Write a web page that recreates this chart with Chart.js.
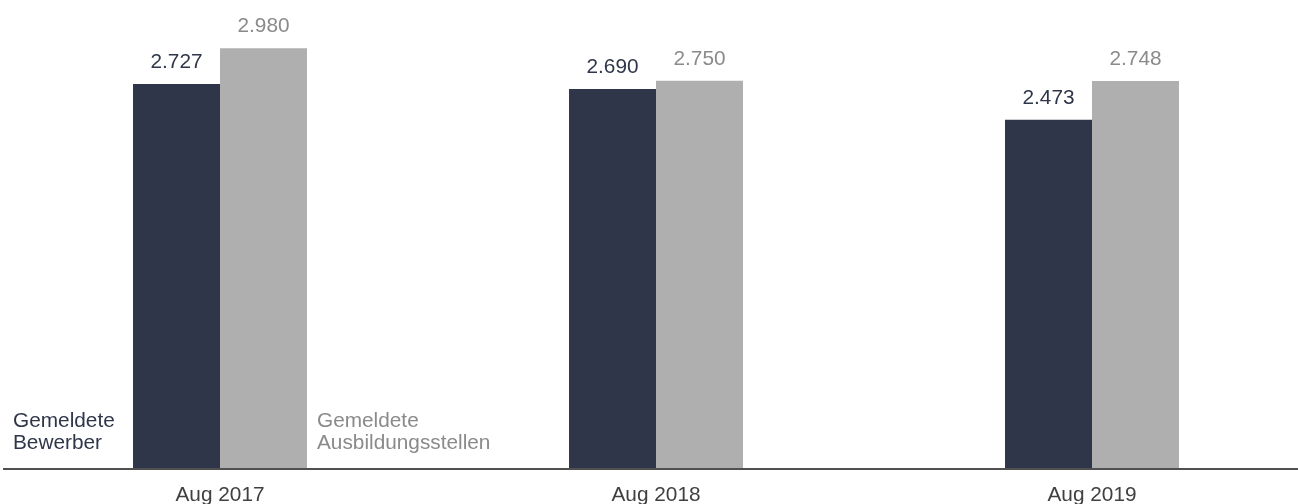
<!DOCTYPE html>
<html>
<head>
<meta charset="utf-8">
<script src="https://cdn.jsdelivr.net/npm/chart.js@4"></script>
<style>
html,body{margin:0;padding:0;background:#fff;overflow:hidden;}
#wrap{position:relative;width:1298px;height:504px;overflow:hidden;}
canvas{display:block;}
</style>
</head>
<body>
<div id="wrap"><canvas id="c" width="1310" height="504"></canvas></div>
<script>
const categories = ["Aug 2017", "Aug 2018", "Aug 2019"];
const bewerber = [2727, 2690, 2473];
const stellen = [2980, 2750, 2748];
const valueLabelsBewerber = ["2.727", "2.690", "2.473"];
const valueLabelsStellen = ["2.980", "2.750", "2.748"];
const seriesNames = [["Gemeldete", "Bewerber"], ["Gemeldete", "Ausbildungsstellen"]];

const DARK = "#2f3649";
const GRAY = "#afafaf";
const GRAY_TEXT = "#8a8a8a";
const FONT = '"Liberation Sans", Arial, sans-serif';
const FS = 20.8;

const labelPlugin = {
  id: "labels",
  afterDatasetsDraw(chart) {
    const ctx = chart.ctx;
    const yScale = chart.scales.y;
    const y0 = yScale.getPixelForValue(0);
    ctx.save();
    // axis line
    ctx.strokeStyle = "#505050";
    ctx.lineWidth = 2;
    ctx.beginPath();
    ctx.moveTo(3, y0);
    ctx.lineTo(chart.width, y0);
    ctx.stroke();
    // value labels
    ctx.font = FS + "px " + FONT;
    ctx.textAlign = "center";
    ctx.textBaseline = "alphabetic";
    const lbls = [valueLabelsBewerber, valueLabelsStellen];
    const cols = [DARK, GRAY_TEXT];
    chart.data.datasets.forEach((ds, di) => {
      const meta = chart.getDatasetMeta(di);
      meta.data.forEach((bar, i) => {
        ctx.fillStyle = cols[di];
        ctx.fillText(lbls[di][i], bar.x, bar.y - 16);
      });
    });
    // series name labels
    ctx.textAlign = "left";
    const g0 = chart.getDatasetMeta(1).data[0];
    ctx.fillStyle = DARK;
    ctx.fillText(seriesNames[0][0], 13, y0 - 42);
    ctx.fillText(seriesNames[0][1], 13, y0 - 20);
    ctx.fillStyle = GRAY_TEXT;
    const gx = g0.x + g0.width / 2 + 10;
    ctx.fillText(seriesNames[1][0], gx, y0 - 42);
    ctx.fillText(seriesNames[1][1], gx, y0 - 20);
    ctx.restore();
  }
};

new Chart(document.getElementById("c"), {
  type: "bar",
  data: {
    labels: categories,
    datasets: [
      { label: "Gemeldete Bewerber", data: bewerber, backgroundColor: DARK, borderWidth: 0 },
      { label: "Gemeldete Ausbildungsstellen", data: stellen, backgroundColor: GRAY, borderWidth: 0 }
    ]
  },
  options: {
    responsive: false,
    animation: false,
    devicePixelRatio: 1,
    layout: { padding: { left: 2, right: 0, top: 0, bottom: 0 } },
    datasets: { bar: { categoryPercentage: 0.399, barPercentage: 1 } },
    plugins: { legend: { display: false }, tooltip: { enabled: false } },
    scales: {
      x: {
        grid: { display: false, drawTicks: false, tickLength: 0 },
        border: { display: false },
        ticks: { color: "#404040", font: { size: FS, family: FONT }, padding: 14, autoSkip: false, maxRotation: 0 },
        afterFit(scale) { scale.height = 35; }
      },
      y: {
        display: false,
        min: 0,
        max: 3321
      }
    }
  },
  plugins: [labelPlugin]
});
</script>
</body>
</html>
